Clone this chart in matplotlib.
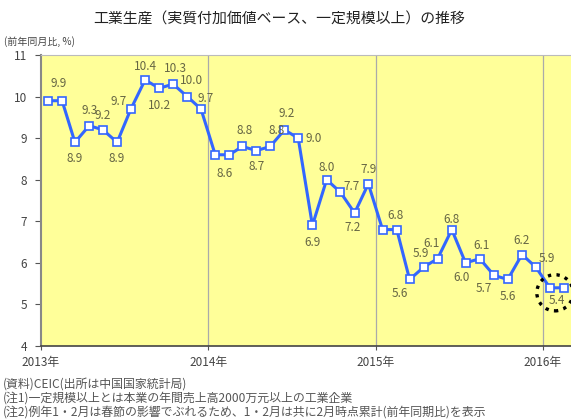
import matplotlib
matplotlib.use('Agg')
import matplotlib.pyplot as plt
import matplotlib.dates as mdates
from matplotlib.patches import Ellipse
import matplotlib.transforms as mtrans
import pandas as pd

plt.rcParams['font.family'] = ['Noto Sans CJK JP', 'DejaVu Sans']

# 工業生産 前年同月比 (%), 2013年1月～2016年2月
values = [9.9, 9.9, 8.9, 9.3, 9.2, 8.9, 9.7, 10.4, 10.2, 10.3, 10.0, 9.7,
          8.6, 8.6, 8.8, 8.7, 8.8, 9.2, 9.0, 6.9, 8.0, 7.7, 7.2, 7.9,
          6.8, 6.8, 5.6, 5.9, 6.1, 6.8, 6.0, 6.1, 5.7, 5.6, 6.2, 5.9,
          5.4, 5.4]
years = [2013, 2014, 2015, 2016]
year_labels = ['2013年', '2014年', '2015年', '2016年']
notes = ['(資料)CEIC(出所は中国国家統計局)',
         '(注1)一定規模以上とは本業の年間売上高2000万元以上の工業企業',
         '(注2)例年1・2月は春節の影響でぶれるため、1・2月は共に2月時点累計(前年同期比)を表示']

# label offsets from each point, in pixels (None = no label)
label_offsets = [
    None, (-3, 17), (0, -16), (0, 15), (0, 14), (0, -16), (-12, 8), (0, 13), (0, -17), (2, 16), (4, 16), (5, 11),
    None, (-5, -19), (2, 16), (0, -16), (6, 16), (2, 16), (15, 0), (0, -17), (0, 12), (11, 6), (-2, -15), (0, 14),
    None, (-1, 14), (-10, -14), (-3, 14), (-6, 15), (0, 10), (-4, -15), (2, 13), (-10, -13), (0, -17), (0, 14), (11, 9),
    (7, -13), None]

dates = pd.date_range('2013-01-01', periods=len(values), freq='MS') + pd.Timedelta(days=15)

fig = plt.figure(figsize=(5.71, 4.2), dpi=100)
ax = fig.add_axes([41 / 571, 1 - 346 / 420, 1 - 41 / 571, (346 - 55) / 420])
ax.set_facecolor('#ffff99')

year_dates = [pd.Timestamp(year=y, month=1, day=1) for y in years]
for d in year_dates[1:]:
    ax.axvline(d, color='#aaaaaa', lw=0.9, zorder=1)

ax.plot(dates, values, color='#3366ff', lw=2.2, marker='s', ms=5.5,
        mfc='white', mec='#3366ff', mew=1.2, zorder=3)

for d, v, off in zip(dates, values, label_offsets):
    if off is None:
        continue
    ax.annotate(f'{v:.1f}', (d, v), xytext=(off[0] * 0.72, off[1] * 0.72),
                textcoords='offset points', ha='center', va='center',
                fontsize=8.5, color='#666644', zorder=4)

# dotted circle around the latest two months
cx = mdates.date2num(dates[-2] + pd.Timedelta(days=11))
ax.add_patch(Ellipse((cx, 5.28), 79, 0.87, fill=False, ls=(0, (1, 1.6)),
                     lw=2.4, ec='black', zorder=5, clip_on=False))

ax.set_ylim(4, 11)
ax.set_yticks(range(4, 12))
ax.set_xlim(pd.Timestamp('2013-01-01'), pd.Timestamp('2016-03-02'))
ax.set_xticks(year_dates)
ax.set_xticklabels(year_labels)
offset = mtrans.ScaledTranslation(7 / 100, 0, fig.dpi_scale_trans)
for lbl in ax.get_xticklabels():
    lbl.set_transform(lbl.get_transform() + offset)

ax.tick_params(axis='both', labelsize=8.5, labelcolor='#444444', color='#555555')
ax.tick_params(axis='y', length=4, pad=6)
ax.tick_params(axis='x', length=3, pad=4)

ax.spines['left'].set_color('#888888')
ax.spines['left'].set_linewidth(1.5)
ax.spines['bottom'].set_color('#444444')
ax.spines['bottom'].set_linewidth(1.2)
ax.spines['top'].set_color('#bbbbbb')
ax.spines['right'].set_visible(False)

fig.text(279 / 571, 1 - 20 / 420, '工業生産（実質付加価値ベース、一定規模以上）の推移',
         ha='center', va='center', fontsize=10.7, color='#222222')
fig.text(4 / 571, 1 - 42 / 420, '(前年同月比, %)', ha='left', va='center',
         fontsize=7.2, color='#444444')
for i, n in enumerate(notes):
    fig.text(3 / 571, 1 - (384 + 14 * i) / 420, n, ha='left', va='center',
             fontsize=8.6, color='#555555')

fig.savefig('out.png', dpi=100)
